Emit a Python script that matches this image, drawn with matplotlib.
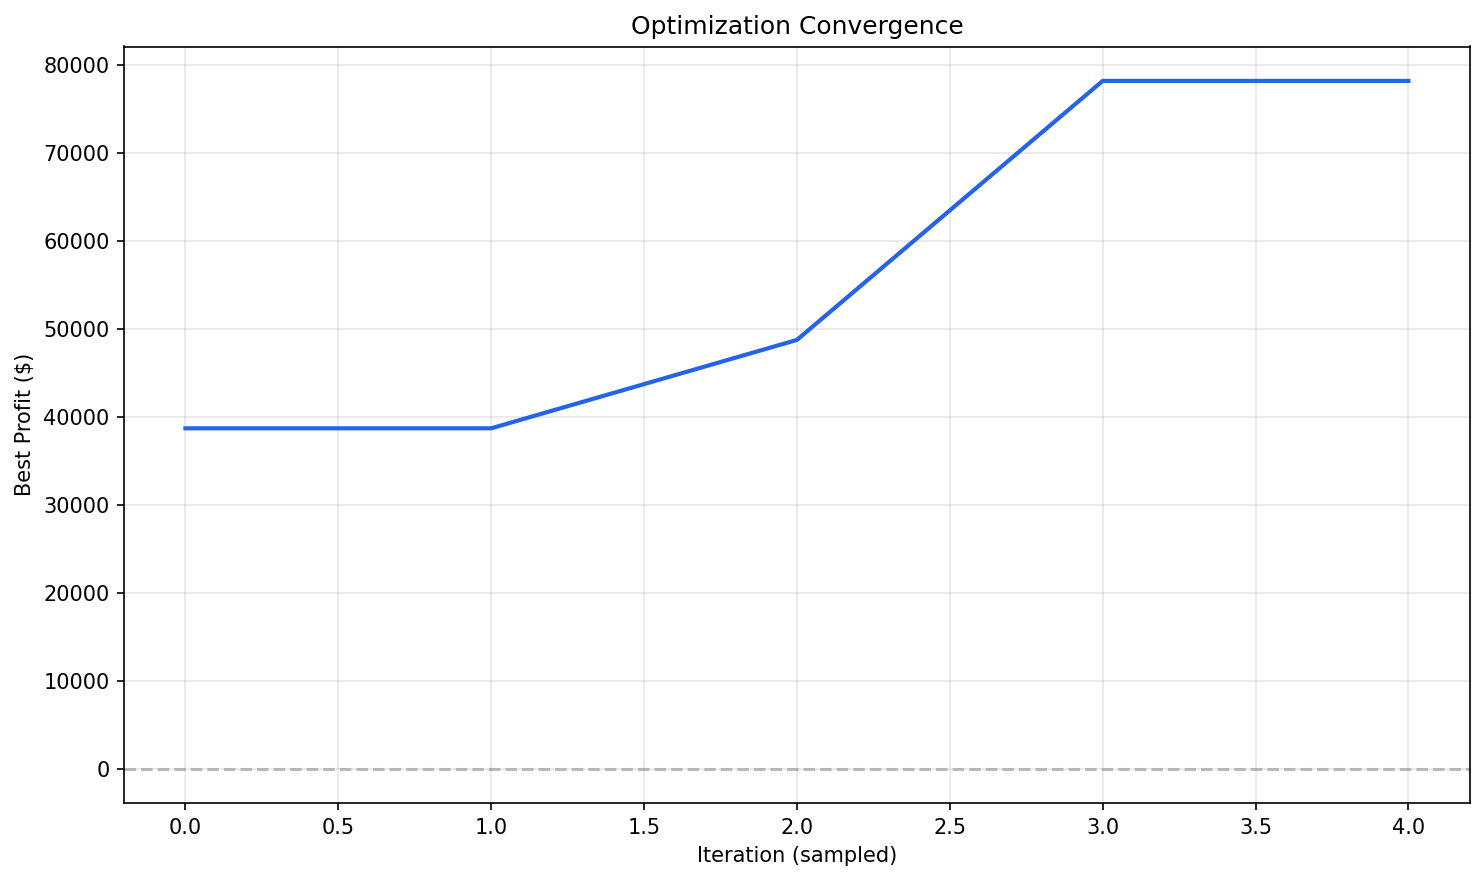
import matplotlib
matplotlib.use("Agg")
import matplotlib.pyplot as plt

# sampled iterations and best profit so far
iterations = [0, 1, 2, 3, 4]
best_profit = [38700, 38700, 48750, 78200, 78200]


def main():
    fig, ax = plt.subplots(figsize=(10, 6))
    ax.plot(iterations, best_profit, color='#2563eb', linewidth=2)
    ax.axhline(0, color='gray', linestyle='--', alpha=0.5)
    ax.set_xlabel('Iteration (sampled)')
    ax.set_ylabel('Best Profit ($)')
    ax.set_title('Optimization Convergence')
    ax.grid(True, alpha=0.3)
    plt.tight_layout()
    plt.savefig('out.png', dpi=150, bbox_inches='tight')


if __name__ == '__main__':
    main()
